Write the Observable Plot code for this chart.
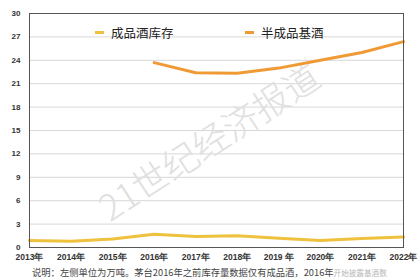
<!DOCTYPE html>
<html>
<head>
<meta charset="utf-8">
<script src="https://cdn.jsdelivr.net/npm/d3@7"></script>
<script src="https://cdn.jsdelivr.net/npm/@observablehq/plot@0.6"></script>
<style>
  html, body { margin: 0; padding: 0; background: #fff; }
  #wrap { position: relative; width: 420px; height: 280px; overflow: hidden; font-family: "Noto Sans CJK SC", "Noto Sans", sans-serif; }
  .legend { position: absolute; top: 23px; font-size: 12.5px; color: #222; display: flex; align-items: center; white-space: nowrap; }
  .legend .sw { display: inline-block; width: 9px; height: 3px; margin-right: 7px; }
  #caption { position: absolute; left: 32px; top: 264px; text-align: left; font-size: 9.3px; color: #444; line-height: 16px; white-space: nowrap; }
  #caption .fade { color: #b8b8b8; font-size: 7.6px; }
</style>
</head>
<body>
<div id="wrap"></div>
<script>
const years = [2013, 2014, 2015, 2016, 2017, 2018, 2019, 2020, 2021, 2022];
const yearLabels = ["2013年", "2014年", "2015年", "2016年", "2017年", "2018年", "2019 年", "2020年", "2021年", "2022年"];
const finishedLiquor = [0.9, 0.8, 1.1, 1.7, 1.4, 1.5, 1.2, 0.9, 1.15, 1.35];
const baseLiquorYears = [2016, 2017, 2018, 2019, 2020, 2021, 2022];
const baseLiquor = [23.7, 22.4, 22.35, 23.0, 24.0, 25.0, 26.4];
const seriesNames = ["成品酒库存", "半成品基酒"];
const seriesColors = ["#EEC13E", "#F09A35"];
const yTicks = [0, 3, 6, 9, 12, 15, 18, 21, 24, 27, 30];
const watermarkText = "21世纪经济报道";
const captionText = "说明：左侧单位为万吨。茅台2016年之前库存量数据仅有成品酒，2016年";
const captionFaded = "开始披露基酒数";

const rows = [
  ...years.map((y, i) => ({year: y, value: finishedLiquor[i], series: seriesNames[0]})),
  ...baseLiquorYears.map((y, i) => ({year: y, value: baseLiquor[i], series: seriesNames[1]}))
];

const chart = Plot.plot({
  width: 420,
  height: 264,
  marginLeft: 29,
  marginRight: 17,
  marginTop: 13,
  marginBottom: 17,
  style: {fontFamily: "'Liberation Sans', Arial, sans-serif", background: "#fff", overflow: "visible"},
  x: {type: "linear", domain: [2013, 2022], ticks: years, tickFormat: (d) => yearLabels[years.indexOf(d)], tickSize: 0, tickPadding: 6, label: null},
  y: {domain: [0, 30], ticks: yTicks, tickSize: 0, tickPadding: 9, label: null, grid: false},
  color: {domain: seriesNames, range: seriesColors},
  marks: [
    Plot.gridY(yTicks.filter(d => d > 0 && d < 30), {stroke: "#d8d8d8", strokeOpacity: 1, strokeWidth: 1}),
    Plot.text([watermarkText], {frameAnchor: "middle", text: d => d, rotate: -33, dx: -6, dy: 13, fontSize: 36, fill: "#e0e0e0", fontWeight: 300, fontFamily: "'Noto Sans CJK SC', sans-serif"}),
    Plot.line(rows, {x: "year", y: "value", z: "series", stroke: "series", strokeWidth: 3, curve: "linear"}),
    Plot.axisY({ticks: yTicks, tickSize: 0, tickPadding: 9, fontSize: 8, fontWeight: "bold", fill: "#333"}),
    Plot.axisX({ticks: years, tickFormat: (d) => yearLabels[years.indexOf(d)], tickSize: 0, tickPadding: 6, fontSize: 8.5, fontWeight: 600, fill: "#333"}),
    Plot.frame({stroke: "#555", strokeWidth: 1})
  ]
});

const wrap = document.getElementById("wrap");
wrap.appendChild(chart);

const legendLefts = [95, 245];
seriesNames.forEach((name, i) => {
  const el = document.createElement("div");
  el.className = "legend";
  el.style.left = legendLefts[i] + "px";
  el.innerHTML = `<span class="sw" style="background:${seriesColors[i]}"></span>${name}`;
  wrap.appendChild(el);
});

const cap = document.createElement("div");
cap.id = "caption";
cap.appendChild(document.createTextNode(captionText));
const fade = document.createElement("span");
fade.className = "fade";
fade.textContent = captionFaded;
cap.appendChild(fade);
wrap.appendChild(cap);
</script>
</body>
</html>
